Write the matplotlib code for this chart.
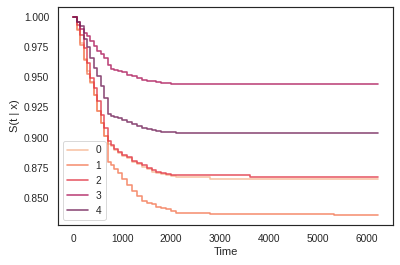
import numpy as np
import pandas as pd
import matplotlib
matplotlib.use("Agg")
import matplotlib.pyplot as plt
import seaborn as sns

# time grid of the predicted survival curves
times = [0, 70, 140, 210, 280, 350, 420, 490, 560, 630, 700, 770, 840, 910,
         1000, 1100, 1200, 1300, 1400, 1500, 1600, 1700, 1800, 1900, 2000,
         2100, 2800, 3600, 5330, 5740, 6220]

surv_0 = [1.0, 0.990, 0.978, 0.965, 0.955, 0.945, 0.935, 0.922, 0.912, 0.901,
          0.895, 0.893, 0.890, 0.887, 0.885, 0.883, 0.880, 0.878, 0.876, 0.874,
          0.872, 0.871, 0.870, 0.869, 0.868, 0.8675, 0.866, 0.866, 0.866,
          0.866, 0.866]
surv_1 = [1.0, 0.989, 0.977, 0.964, 0.953, 0.946, 0.935, 0.922, 0.912, 0.901,
          0.880, 0.877, 0.874, 0.871, 0.866, 0.861, 0.856, 0.852, 0.848, 0.846,
          0.845, 0.843, 0.842, 0.841, 0.839, 0.838, 0.8372, 0.8372, 0.836,
          0.836, 0.836]
surv_2 = [1.0, 0.993, 0.985, 0.974, 0.962, 0.949, 0.941, 0.930, 0.919, 0.908,
          0.897, 0.894, 0.891, 0.888, 0.886, 0.884, 0.881, 0.879, 0.877, 0.875,
          0.873, 0.872, 0.871, 0.870, 0.8695, 0.869, 0.869, 0.8675, 0.8675,
          0.8675, 0.8675]
surv_3 = [1.0, 0.996, 0.990, 0.987, 0.984, 0.980, 0.976, 0.972, 0.969, 0.966,
          0.960, 0.957, 0.956, 0.955, 0.954, 0.952, 0.951, 0.949, 0.948, 0.947,
          0.9465, 0.946, 0.9455, 0.945, 0.9447, 0.944, 0.944, 0.944, 0.944,
          0.944, 0.944]
surv_4 = [1.0, 0.996, 0.992, 0.982, 0.975, 0.966, 0.958, 0.951, 0.943, 0.933,
          0.920, 0.918, 0.917, 0.916, 0.915, 0.913, 0.911, 0.910, 0.908, 0.907,
          0.906, 0.9055, 0.905, 0.9047, 0.9044, 0.904, 0.904, 0.904, 0.904,
          0.9035, 0.9035]

sns.set_theme(style="white", context="notebook")
plt.rcParams['font.family'] = ['Liberation Sans', 'DejaVu Sans']

surv = pd.DataFrame({0: surv_0, 1: surv_1, 2: surv_2, 3: surv_3, 4: surv_4},
                    index=times)
colors = sns.color_palette("rocket_r", 6)[:5]

fig, ax = plt.subplots(figsize=(6, 3.975), dpi=66.67)
fig.subplots_adjust(left=0.145, right=0.9825, top=0.974, bottom=0.151)
for i, col in enumerate(surv.columns):
    ax.plot(surv.index, surv[col], drawstyle='steps-post', color=colors[i],
            alpha=0.8, linewidth=1.75, label=str(col))

ax.set_ylabel('S(t | x)')
ax.set_xlabel('Time')
ax.set_xticks([0, 1000, 2000, 3000, 4000, 5000, 6000])
ax.legend(loc='lower left')

fig.savefig('out.png')
